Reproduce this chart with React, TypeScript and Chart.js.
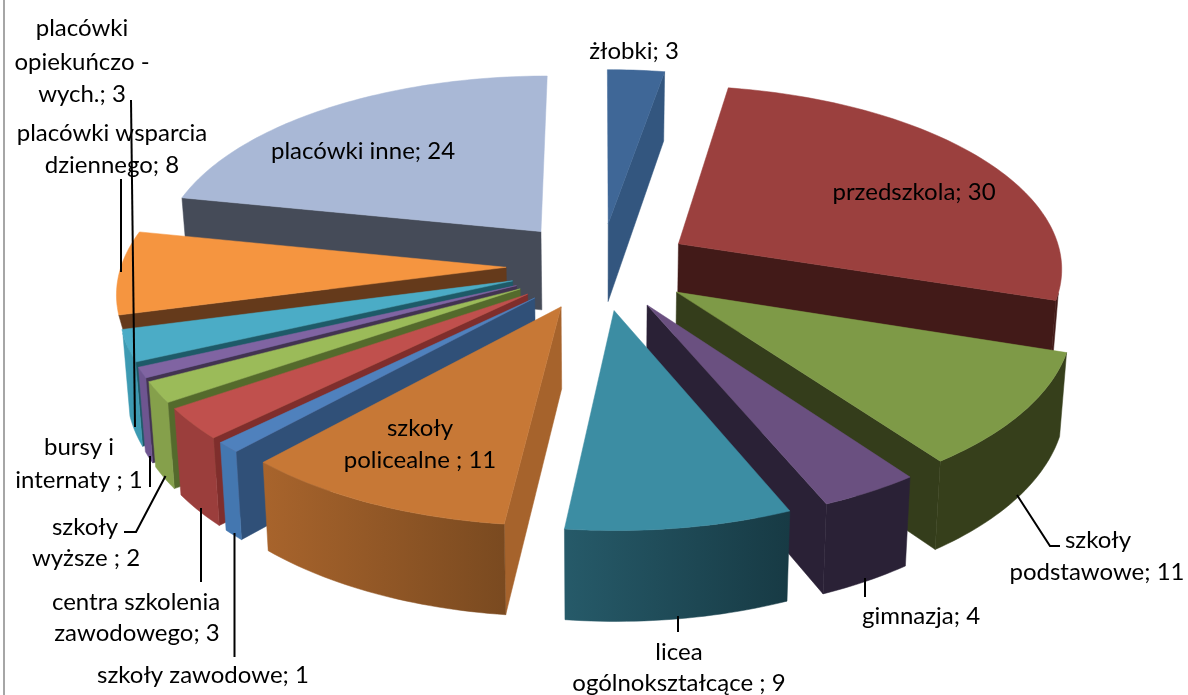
import React, { useEffect, useRef } from "react";
import { Chart, registerables } from "chart.js";

Chart.register(...registerables);

const categories = [
  "żłobki", "przedszkola", "szkoły podstawowe", "gimnazja", "licea ogólnokształcące",
  "szkoły policealne", "szkoły zawodowe", "centra szkolenia zawodowego", "szkoły wyższe",
  "bursy i internaty", "placówki opiekuńczo - wych.", "placówki wsparcia dziennego", "placówki inne",
];
const values = [3, 30, 11, 4, 9, 11, 1, 3, 2, 1, 3, 8, 24];

const topColors = ["#3F6797", "#9B403E", "#7E9A47", "#6A5080", "#3C8DA3", "#C77836", "#4F81BD", "#C0504D", "#9BBB59", "#8064A2", "#4BACC6", "#F59540", "#A9B8D6"];
const wallColors = ["#33567F", "#421A18", "#343D1B", "#2A2136", "#245560", "#A6632C", "#305078", "#7F2E2C", "#546A2C", "#423351", "#1E5A68", "#653A1B", "#454B58"];
const outerFrom = ["#33567F", "#421A18", "#363F1B", "#2A2136", "#265A69", "#A8642C", "#4477B0", "#9B3E3C", "#85A04B", "#6E5590", "#3D9AB2", "#653A1B", "#454B58"];
const outerTo = ["#33567F", "#421A18", "#363F1B", "#2A2136", "#173A44", "#7A4A20", "#4477B0", "#9B3E3C", "#85A04B", "#6E5590", "#3D9AB2", "#653A1B", "#454B58"];
const explosionPct = [24, 24, 24, 24, 24, 24, 24, 24, 24, 24, 24, 24.5, 25];
const wallReach = [1, 1, 1, 1, 1, 1, 1, 1, 1, 1, 1, 0.96, 1];

const labelLines: [string, number, number][] = [
  ["żłobki; 3", 634, 51],
  ["przedszkola; 30", 914, 192],
  ["placówki inne; 24", 363, 151],
  ["szkoły", 420, 428],
  ["policealne ; 11", 420, 460],
  ["szkoły", 1098, 540],
  ["podstawowe; 11", 1097, 572],
  ["gimnazja; 4", 921, 616],
  ["licea", 679, 652],
  ["ogólnokształcące ; 9", 679, 683],
  ["szkoły zawodowe; 1", 203, 675],
  ["centra szkolenia", 136, 602],
  ["zawodowego; 3", 137, 633],
  ["szkoły", 85, 527],
  ["wyższe ; 2", 86, 558],
  ["bursy i", 79, 447],
  ["internaty ; 1", 79, 480],
  ["placówki wsparcia", 112, 133],
  ["dziennego; 8", 112, 165],
  ["placówki", 82, 28],
  ["opiekuńczo -", 82, 62],
  ["wych.; 3", 82, 94],
];
const leaders: number[][] = [
  [1017, 495, 1050, 546, 1060, 546],
  [865, 578, 865, 597],
  [678, 616, 678, 632],
  [234.5, 533, 234.5, 657],
  [201, 508, 201, 582],
  [165.5, 476, 136, 532, 124, 532],
  [150, 456, 150, 487],
  [131, 100, 135, 427],
  [121, 179, 121, 272],
];

const CX = 600.5, CY = 266, AX = 385, BY = 182, PERSP = 0.12, DEPTH = 80, DEPTH_TILT = 0.11, NARROW = 0.985, RIM_MIN = 0.26;

function project(X: number, Y: number, low: boolean): [number, number] {
  const s = 1 / (1 + PERSP * Y);
  let x = CX + AX * X * s;
  let y = CY - BY * Y * s;
  if (low) {
    x = CX + (x - CX) * NARROW;
    y += DEPTH * (1 - DEPTH_TILT * Y);
  }
  return [x, y];
}

const pie3d = {
  id: "pie3d",
  beforeDatasetsDraw(chart: any) {
    const ctx: CanvasRenderingContext2D = chart.ctx;
    const arcs: any[] = chart.getDatasetMeta(0).data;
    const order = arcs.map((a, i) => {
      const mid = (a.startAngle + a.endAngle) / 2;
      return { a, i, mid, back: -Math.sin(mid) };
    }).sort((p, q) => q.back - p.back);

    ctx.save();
    ctx.fillStyle = "#ffffff";
    ctx.fillRect(0, 0, chart.width, chart.height);
    ctx.fillStyle = "#A6A6A6";
    ctx.fillRect(3, 0, 2, chart.height);

    for (const { a, i, mid } of order) {
      const e = a.options.offset / 100;
      const tx = Math.cos(mid) * e;
      const ty = -Math.sin(mid) * e;
      const pt = (ang: number, r: number, low: boolean) =>
        project(tx + r * Math.cos(ang), ty - r * Math.sin(ang), low);
      const poly = (pts: [number, number][], fill: any) => {
        ctx.beginPath();
        pts.forEach((p, k) => (k ? ctx.lineTo(p[0], p[1]) : ctx.moveTo(p[0], p[1])));
        ctx.closePath();
        ctx.fillStyle = fill;
        ctx.fill();
        ctx.strokeStyle = fill;
        ctx.lineWidth = 0.5;
        ctx.stroke();
      };
      const steps = Math.max(4, Math.ceil((a.endAngle - a.startAngle) / 0.02));
      const angs: number[] = [];
      for (let k = 0; k <= steps; k++) angs.push(a.startAngle + ((a.endAngle - a.startAngle) * k) / steps);

      // radial walls, only those turned towards the viewer
      const wall = (ang: number, normal: number) => {
        if (-Math.sin(normal) < -0.001) {
          poly([pt(ang, 0, false), pt(ang, 1, false), pt(ang, wallReach[i], true), pt(ang, 0, true)], wallColors[i]);
        }
      };
      wall(a.startAngle, a.startAngle - Math.PI / 2);
      wall(a.endAngle, a.endAngle + Math.PI / 2);

      // outer rim, only the part that faces the viewer
      const topArc = angs.map((g) => pt(g, 1, false));
      const front = angs.filter((g) => Math.sin(g) > RIM_MIN);
      if (front.length > 1) {
        const rimTop = front.map((g) => pt(g, 1, false));
        const rimLow = front.map((g) => pt(g, 1, true)).reverse();
        const xa = rimTop[0][0], xb = rimTop[rimTop.length - 1][0];
        const grad = ctx.createLinearGradient(Math.min(xa, xb), 0, Math.max(xa, xb) + 0.01, 0);
        grad.addColorStop(0, outerFrom[i]);
        grad.addColorStop(1, outerTo[i]);
        poly([...rimTop, ...rimLow], grad);
      }

      // top face, in the colour the library resolved for this arc
      poly([pt(0, 0, false), ...topArc], a.options.backgroundColor);
    }

    ctx.strokeStyle = "#000000";
    ctx.lineWidth = 2;
    for (const l of leaders) {
      ctx.beginPath();
      for (let k = 0; k < l.length; k += 2) {
        if (k) ctx.lineTo(l[k], l[k + 1]);
        else ctx.moveTo(l[k], l[k + 1]);
      }
      ctx.stroke();
    }

    ctx.fillStyle = "#000000";
    ctx.font = '24px Lato';
    ctx.textAlign = "center";
    ctx.textBaseline = "middle";
    for (const [t, x, y] of labelLines) ctx.fillText(t, x, y);
    ctx.restore();
    return false;
  },
};

export default function App() {
  const ref = useRef<HTMLCanvasElement>(null);
  useEffect(() => {
    const chart = new Chart(ref.current as HTMLCanvasElement, {
      type: "pie",
      data: {
        labels: categories,
        datasets: [{ data: values, backgroundColor: topColors, offset: explosionPct, borderWidth: 0 }],
      },
      options: {
        responsive: false,
        animation: false,
        plugins: { legend: { display: false }, tooltip: { enabled: false } },
      },
      plugins: [pie3d],
    } as any);
    return () => chart.destroy();
  }, []);
  return (
    <div style={{ position: "absolute", left: 0, top: 0 }}>
      <canvas ref={ref} width={1188} height={695} style={{ display: "block" }} />
    </div>
  );
}
